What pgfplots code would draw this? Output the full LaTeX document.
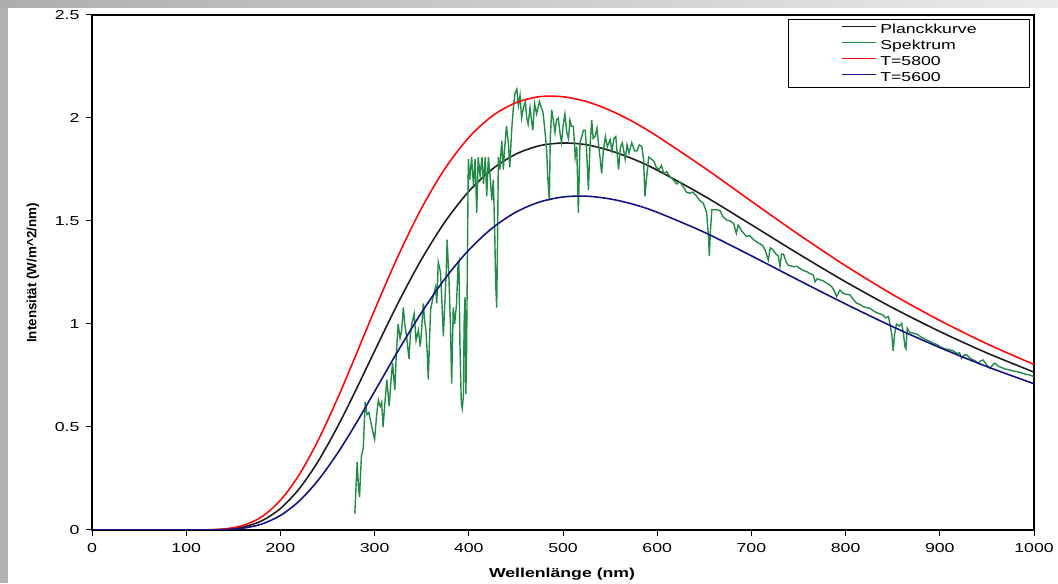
\documentclass[border=0pt]{standalone}
\usepackage{fontspec}
\setmainfont{Liberation Sans}[FakeStretch=1.36]
\newfontfamily\ylfont{Liberation Sans}
\usepackage{pgfplots}
\pgfplotsset{compat=1.18}
\definecolor{planck}{RGB}{30,30,30}
\definecolor{spek}{RGB}{34,139,69}
\definecolor{tred}{RGB}{255,10,10}
\definecolor{tblue}{RGB}{20,20,130}
\begin{document}
\begin{tikzpicture}
\fill[white] (0,0) rectangle (1058pt,583pt);
\fill[black!30] (0,0) rectangle (8pt,583pt);
\shade[left color=black!32, right color=black!8] (0pt,575pt) rectangle (1058pt,583pt);
\begin{axis}[
  at={(92pt,53pt)}, anchor=south west, scale only axis,
  width=942pt, height=515pt,
  xmin=0, xmax=1000, ymin=0, ymax=2.5,
  xtick={0,100,...,1000}, ytick={0,0.5,1,1.5,2,2.5},
  tick align=outside, xtick pos=bottom, ytick pos=left,
  major tick length=6pt,
  tick style={black, line width=1pt},
  axis line style={black, line width=1.2pt},
  /pgf/number format/assume math mode=true,
  /pgf/number format/1000 sep={},
  tick label style={font=\fontsize{13}{15}\selectfont},
  yticklabel style={xshift=-3pt},
  xticklabel style={yshift=-3.5pt},
  xlabel={\bfseries Wellenlänge (nm)},
  ylabel={\ylfont\bfseries Intensität (W/m\^{}2/nm)},
  xlabel style={at={(axis description cs:0.499,-0.0854)}, anchor=center, font=\fontsize{13}{15}\selectfont},
  ylabel style={at={(axis description cs:-0.0626,0.499)}, anchor=center, rotate=0, font=\fontsize{13.4}{15}\selectfont},
  legend style={at={(0.9958,0.9922)}, anchor=north east, draw=black, line width=0.9pt,
    font=\fontsize{13}{15}\selectfont, inner xsep=52pt, inner ysep=2pt, row sep=0pt,
    nodes={inner sep=1pt, text height=10.8pt, text depth=3.3pt}},
  legend cell align=left,
  legend image code/.code={\draw[#1, line width=1.5pt] (0pt,3.2pt) -- (34pt,3.2pt); \path (37pt,3.2pt);},
]
\addplot[planck, line width=1.6pt, smooth] table {
0 0
100 0
120 0.0003
140 0.0030
160 0.0141
180 0.0442
200 0.1041
220 0.2003
240 0.3330
260 0.4957
280 0.6780
300 0.8687
325 1.1028
350 1.3155
375 1.4978
400 1.6437
425 1.7523
450 1.8247
475 1.8653
500 1.8786
525 1.8700
550 1.8416
575 1.8000
600 1.7469
650 1.6211
700 1.4816
750 1.3405
800 1.2046
850 1.0786
900 0.9636
950 0.8594
1000 0.7664
};
\addlegendentry{Planckkurve}
\addplot[spek, line width=1.4pt] table {
279 0.08
281.5 0.33
283 0.20
284 0.16
286 0.36
288 0.40
290 0.62
292 0.56
294 0.57
297 0.50
300 0.44
302 0.55
304 0.63
306 0.60
307.5 0.62
309 0.50
311 0.62
313 0.73
315.5 0.60
317 0.70
319 0.81
321.5 0.68
323 0.85
325 1.00
327 0.93
328.7 0.97
330.5 1.08
332 1.00
334 0.94
336.5 0.83
338 0.95
339.5 1.00
342 1.05
344 0.92
346.5 0.97
348.5 0.89
350 0.98
351.7 1.10
353 1.02
354.5 0.97
356 0.85
357 0.73
358.5 0.95
359.5 1.07
362 1.13
364.7 1.18
366 1.10
367.6 1.30
370 1.25
371.5 1.10
373 0.94
374.5 1.10
376 1.25
377 1.41
379 1.21
380.5 1.00
381.8 0.71
383.5 1.08
385 1.00
387 1.10
388.5 1.28
389.5 1.30
390.6 0.90
392 0.62
393 0.59
394.3 0.65
395 1.00
396 1.13
396.8 0.66
397.5 0.80
398.3 1.20
399.5 1.80
401 1.70
403 1.81
405 1.67
406.7 1.80
408.4 1.54
410 1.81
412 1.72
414 1.81
415.6 1.68
417.5 1.81
419 1.62
420.8 1.81
422.6 1.72
424.4 1.60
426 1.70
427.5 1.45
428.5 1.20
429.6 1.08
430.5 1.40
431.4 1.81
433 1.75
435 1.89
436.7 1.75
438 1.85
440 1.96
442 1.88
443.5 1.76
445.5 1.94
447.3 2.05
449 2.12
451 2.14
452.6 2.06
454.4 2.11
456 2.00
458 2.05
460 2.08
461.5 2.00
463 1.97
465 2.05
466.5 1.99
468 1.94
469.8 2.07
472 2.02
475 2.08
477 2.05
478.7 2.03
481 1.93
482.5 1.85
484 1.70
485.5 1.60
486.5 1.90
488 2.04
490 1.98
491.5 1.93
493 1.99
495 2.00
497 1.92
498.5 1.88
500 1.96
502 2.02
504 1.93
505.8 1.90
507.4 1.99
509 1.96
511 1.96
513 1.81
514.6 1.86
516.3 1.54
518 1.88
520 1.91
521.6 1.94
523.5 1.94
525 1.85
527 1.65
528.5 1.85
530.5 1.99
532 1.90
534 1.91
536 1.95
538 1.86
539.5 1.80
541 1.73
543 1.85
545 1.91
547 1.86
550 1.895
552 1.84
554 1.90
556 1.91
559 1.75
561 1.86
563 1.88
566 1.80
568 1.87
570 1.83
573 1.88
576 1.84
578.5 1.84
581 1.87
583.7 1.86
585.5 1.80
587 1.62
588.5 1.70
591 1.81
594 1.80
596.6 1.79
599 1.76
602 1.75
604.5 1.77
607 1.73
610 1.74
613.6 1.715
617 1.70
620.7 1.68
624 1.69
627.8 1.665
631 1.64
634.8 1.635
638 1.64
641.9 1.62
645 1.60
649 1.586
652.5 1.54
654.5 1.42
655.3 1.33
656.5 1.45
658 1.555
663 1.555
666.7 1.55
670 1.52
673.7 1.505
677 1.50
681 1.49
684 1.44
686 1.48
690 1.45
695 1.424
698 1.43
702 1.41
705 1.40
709 1.39
712 1.38
714.5 1.36
718 1.31
720 1.37
723 1.36
726 1.34
728.5 1.33
730.4 1.28
732 1.34
734 1.34
737 1.30
739 1.286
744.5 1.278
748 1.28
751.6 1.27
755 1.26
758.7 1.254
762 1.245
765.8 1.237
767.5 1.205
770 1.22
773 1.214
776 1.21
780 1.198
783 1.19
785.5 1.18
788 1.16
790.5 1.133
794 1.165
797 1.15
800 1.145
804.7 1.141
808 1.12
812 1.10
815 1.095
818.8 1.084
822 1.08
825.8 1.076
829 1.065
833 1.055
836 1.05
840 1.043
842 1.03
845.5 1.036
847 1.00
849 0.95
850.5 0.87
852 0.95
854 1.00
857 0.99
859.5 1.003
861.5 0.95
863 0.89
864 0.88
865.5 0.98
868 0.96
872 0.955
876 0.95
879 0.94
883 0.93
886 0.922
890 0.915
893 0.906
897 0.90
900 0.89
905 0.88
910.8 0.874
914 0.87
918 0.857
921 0.86
923 0.833
926 0.85
928.6 0.85
932 0.835
935.6 0.825
938 0.82
940.6 0.809
943 0.82
946 0.825
950 0.80
953 0.785
956 0.80
958.4 0.81
962 0.795
967.4 0.785
971 0.78
974.5 0.777
978 0.772
981.6 0.769
985 0.765
988.7 0.76
992 0.755
995.8 0.752
1000 0.744
};
\addlegendentry{Spektrum}
\addplot[tred, line width=1.6pt, smooth] table {
0 0
100 0
120 0.0006
140 0.0048
160 0.0214
180 0.0637
200 0.1441
220 0.2686
240 0.4345
260 0.6319
280 0.8475
300 1.0680
325 1.3308
350 1.5638
375 1.7566
400 1.9053
425 2.0103
450 2.0741
475 2.1034
500 2.1030
525 2.0796
550 2.0370
575 1.9802
600 1.9115
650 1.7585
700 1.5957
750 1.4349
800 1.2825
850 1.1430
900 1.0171
950 0.9039
1000 0.8036
};
\addlegendentry{T=5800}
\addplot[tblue, line width=1.6pt, smooth] table {
0 0
100 0
120 0.0002
140 0.0017
160 0.0087
180 0.0286
200 0.0705
220 0.1407
240 0.2411
260 0.3681
280 0.5148
300 0.6724
325 0.8706
350 1.0567
375 1.2221
400 1.3592
425 1.4660
450 1.5430
475 1.5920
500 1.6166
525 1.6204
550 1.6071
575 1.5805
600 1.5422
650 1.4451
700 1.3310
750 1.2128
800 1.0971
850 0.9869
900 0.8856
950 0.7932
1000 0.7100
};
\addlegendentry{T=5600}
\end{axis}
\end{tikzpicture}
\end{document}
